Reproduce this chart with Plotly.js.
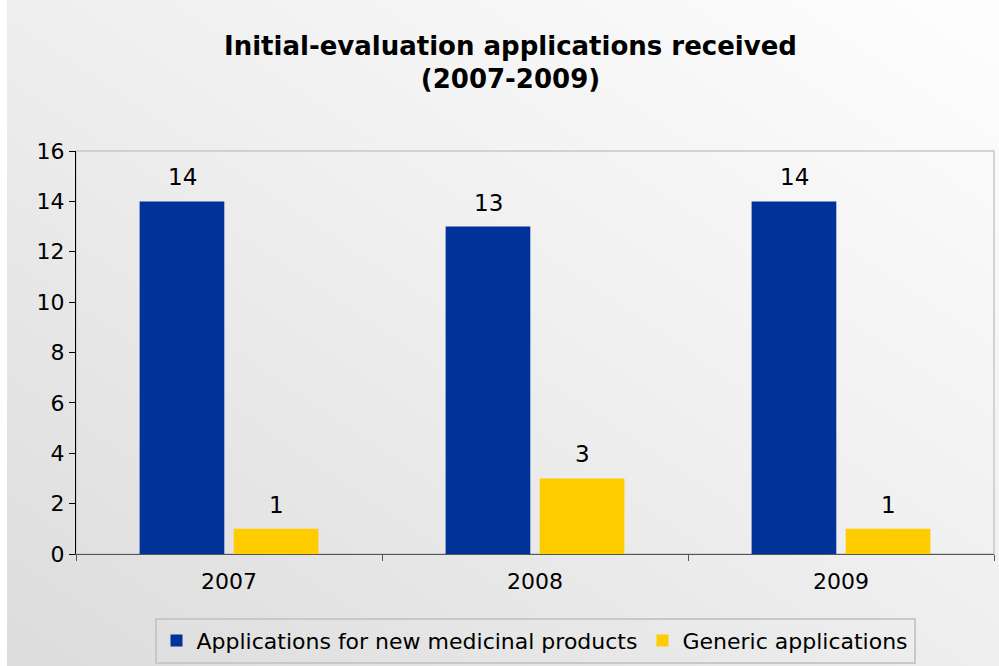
<!DOCTYPE html>
<html>
<head>
<meta charset="utf-8">
<script src="https://cdn.plot.ly/plotly-3.0.1.min.js"></script>
<style>
  html, body { margin: 0; padding: 0; background: #ffffff; }
  #bg { position: absolute; left: 7px; top: 0; width: 992px; height: 666px;
        background: linear-gradient(to bottom left, #fefefe 0%, #f0f0f0 45%, #dcdcdc 100%); }
  #chart { position: absolute; left: 0; top: 0; width: 999px; height: 666px; }
</style>
</head>
<body>
<div id="bg"></div>
<div id="chart"></div>
<script>
const years = ["2007", "2008", "2009"];
const newMedicinal = [14, 13, 14];
const generic = [1, 3, 1];
const seriesNames = ["Applications for new medicinal products", "Generic applications"];
const yTicks = [0, 2, 4, 6, 8, 10, 12, 14, 16];

const fontFam = "DejaVu Sans, Verdana, sans-serif";

const traces = [
  {
    type: "bar", x: years, y: newMedicinal, name: seriesNames[0],
    marker: { color: "#003399" }, hoverinfo: "none"
  },
  {
    type: "bar", x: years, y: generic, name: seriesNames[1],
    marker: { color: "#FFCC00" }, hoverinfo: "none"
  }
];

// value labels above each bar (placed at each category, shifted to its bar in the group)
const seriesList = [newMedicinal, generic];
const groupShift = [-47, 47];
const annotations = [];
seriesList.forEach((vals, s) => {
  vals.forEach((v, i) => {
    annotations.push({
      x: i, y: v, xref: "x", yref: "y", text: String(v),
      showarrow: false, xanchor: "center", yanchor: "bottom",
      xshift: groupShift[s], yshift: 9,
      font: { size: 23, color: "#000000", family: fontFam }
    });
  });
});

const layout = {
  width: 999, height: 666,
  paper_bgcolor: "rgba(0,0,0,0)", plot_bgcolor: "rgba(0,0,0,0)",
  margin: { l: 76, r: 5, t: 151, b: 112, autoexpand: false },
  font: { family: fontFam, size: 22, color: "#000000" },
  title: {
    text: "<b>Initial-evaluation applications received<br>(2007-2009)</b>",
    x: 0.511, xanchor: "center", y: 0.918, yanchor: "top",
    font: { family: fontFam, size: 26, color: "#000000" }
  },
  barmode: "group", bargap: 0.385, bargroupgap: 0.1,
  xaxis: {
    type: "category", categoryorder: "array", categoryarray: years,
    range: [-0.5, 2.5], autorange: false,
    showline: true, linecolor: "#555555", linewidth: 1,
    ticks: "outside", tickson: "boundaries", ticklen: 6, tickcolor: "#555555",
    showgrid: false, zeroline: false, tickangle: 0, ticklabelstandoff: 8,
    tickfont: { size: 22, family: fontFam }
  },
  yaxis: {
    range: [0, 16], autorange: false, tickvals: yTicks,
    showline: true, linecolor: "#000000", linewidth: 1,
    ticks: "outside", ticklen: 6, tickcolor: "#000000",
    showgrid: false, zeroline: false,
    tickfont: { size: 22, family: fontFam }
  },
  shapes: [{
    type: "rect", xref: "paper", yref: "paper", x0: 0, x1: 1, y0: 0, y1: 1,
    line: { color: "#c8c8c8", width: 1.5 }, layer: "below"
  }],
  annotations: annotations,
  legend: {
    orientation: "h", x: 0.5, xanchor: "center", y: -0.158, yanchor: "top",
    bgcolor: "rgba(0,0,0,0)", bordercolor: "#c8c8c8", borderwidth: 2,
    font: { size: 22, family: fontFam }, traceorder: "normal"
  },
  showlegend: true
};

Plotly.newPlot("chart", traces, layout, { displayModeBar: false, staticPlot: true });
</script>
</body>
</html>
